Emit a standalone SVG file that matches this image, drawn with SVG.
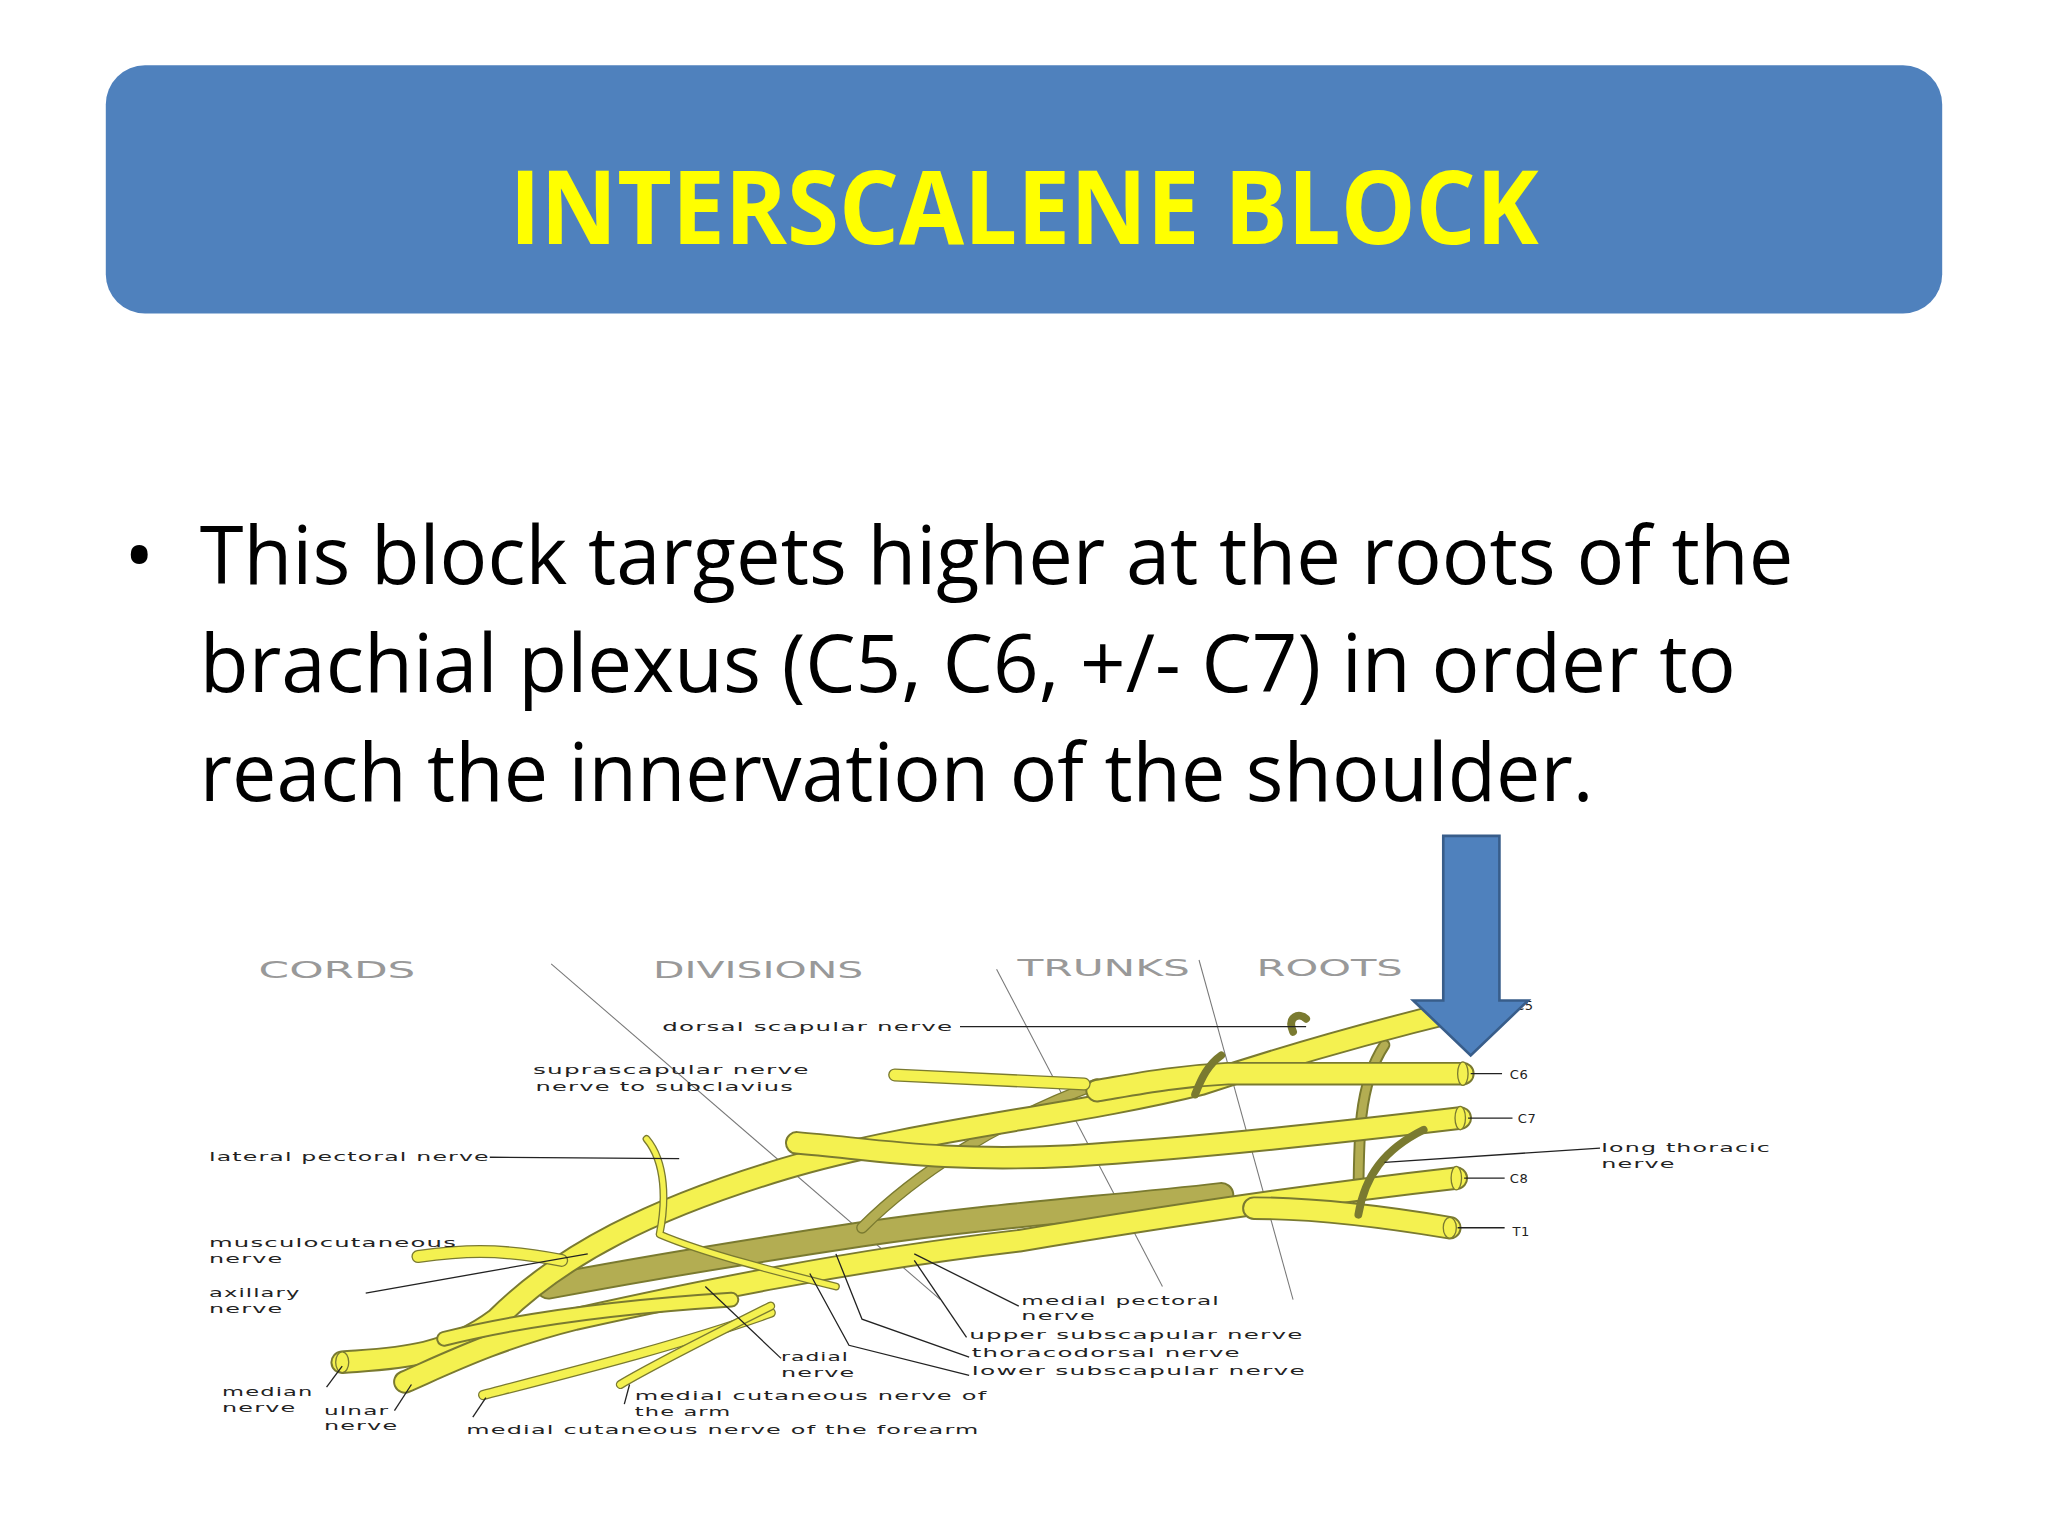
<svg xmlns="http://www.w3.org/2000/svg" width="2048" height="1536" viewBox="0 0 2048 1536">
<style>
.lbl{font-family:"DejaVu Sans",Verdana,sans-serif;font-size:10px;fill:#222;letter-spacing:0.5px}
.hdr{font-family:"DejaVu Sans",Verdana,sans-serif;font-size:17px;fill:#999}
.ol{fill:none;stroke:#7a7a30;stroke-linecap:round;stroke-linejoin:round}
.yl{fill:none;stroke:#f4f150;stroke-linecap:round;stroke-linejoin:round}
.pc{fill:none;stroke:#b3ad52;stroke-linecap:round}
.lead{fill:none;stroke:#222;stroke-width:1}
.guide{fill:none;stroke:#777;stroke-width:0.8}
</style>
<rect width="2048" height="1536" fill="#fff"/>
<g transform="scale(1.30612)">
<g id="title">
<rect x="81" y="50" width="1406" height="190" rx="30" fill="#4f81bd"/>
<text x="784" y="187" text-anchor="middle" font-family="Open Sans, Liberation Sans, sans-serif" font-weight="bold" font-size="78" fill="#ffff00" textLength="788" lengthAdjust="spacingAndGlyphs">INTERSCALENE BLOCK</text>
</g>
<g id="bullet" font-family="Open Sans, Liberation Sans, sans-serif" font-size="62" fill="#000">
<text x="95" y="447">•</text>
<text x="153" y="447" textLength="1220" lengthAdjust="spacingAndGlyphs">This block targets higher at the roots of the</text>
<text x="153" y="530" textLength="1176" lengthAdjust="spacingAndGlyphs">brachial plexus (C5, C6, +/- C7) in order to</text>
<text x="153" y="613" textLength="1067" lengthAdjust="spacingAndGlyphs">reach the innervation of the shoulder.</text>
</g>
<g id="plexus">
<g id="headers">
<text class="hdr" x="198" y="749" textLength="120" lengthAdjust="spacingAndGlyphs">CORDS</text>
<text class="hdr" x="500" y="749" textLength="161" lengthAdjust="spacingAndGlyphs">DIVISIONS</text>
<text class="hdr" x="779" y="747" textLength="132" lengthAdjust="spacingAndGlyphs">TRUNKS</text>
<text class="hdr" x="962" y="747" textLength="112" lengthAdjust="spacingAndGlyphs">ROOTS</text>
</g>
<g id="guides">
<path class="guide" d="M422 738 L720 995"/>
<path class="guide" d="M763 742 L890 985"/>
<path class="guide" d="M918 735 L990 995"/>
</g>
<g id="nerves">
<path class="ol" stroke-width="20" d="M935 915 C850 925 760 930 660 945 C560 960 500 970 420 985"/>
<path class="pc" stroke-width="17" d="M935 915 C850 925 760 930 660 945 C560 960 500 970 420 985"/>
<path class="ol" stroke-width="9" d="M840 830 C760 860 700 900 660 940"/>
<path class="pc" stroke-width="7" d="M840 830 C760 860 700 900 660 940"/>
<path class="ol" stroke-width="9" d="M1060 800 C1040 830 1040 870 1040 930"/>
<path class="pc" stroke-width="6" d="M1060 800 C1040 830 1040 870 1040 930"/>
<path class="ol" stroke-width="6" d="M990 790 C985 778 995 775 1000 780"/>
<path class="ol" stroke-width="18" d="M1120 773 C1050 790 980 810 920 830 C820 855 700 865 600 895 C500 925 430 960 380 1010 C340 1040 300 1040 262 1043"/>
<path class="yl" stroke-width="15" d="M1120 773 C1050 790 980 810 920 830 C820 855 700 865 600 895 C500 925 430 960 380 1010 C340 1040 300 1040 262 1043"/>
<path class="ol" stroke-width="18" d="M1120 822 L940 822 C900 824 870 830 840 835"/>
<path class="yl" stroke-width="15" d="M1120 822 L940 822 C900 824 870 830 840 835"/>
<path class="ol" stroke-width="10" d="M830 830 L685 823"/>
<path class="yl" stroke-width="8" d="M830 830 L685 823"/>
<path class="ol" stroke-width="6" d="M935 808 C925 815 920 825 915 838"/>
<path class="ol" stroke-width="18" d="M1118 856 C1000 870 900 880 820 885 C720 890 670 880 610 875"/>
<path class="yl" stroke-width="15" d="M1118 856 C1000 870 900 880 820 885 C720 890 670 880 610 875"/>
<path class="ol" stroke-width="18" d="M1115 902 C1000 915 900 930 780 950 C650 965 530 990 440 1010 C380 1025 340 1045 310 1058"/>
<path class="yl" stroke-width="15" d="M1115 902 C1000 915 900 930 780 950 C650 965 530 990 440 1010 C380 1025 340 1045 310 1058"/>
<path class="ol" stroke-width="18" d="M1110 940 C1050 930 1000 925 960 925"/>
<path class="yl" stroke-width="15" d="M1110 940 C1050 930 1000 925 960 925"/>
<path class="ol" stroke-width="12" d="M560 995 C480 1000 400 1010 340 1025"/>
<path class="yl" stroke-width="9" d="M560 995 C480 1000 400 1010 340 1025"/>
<path class="ol" stroke-width="10" d="M430 965 C380 955 350 958 320 962"/>
<path class="yl" stroke-width="8" d="M430 965 C380 955 350 958 320 962"/>
<path class="ol" stroke-width="8" d="M590 1005 C520 1030 440 1050 370 1068"/>
<path class="yl" stroke-width="6" d="M590 1005 C520 1030 440 1050 370 1068"/>
<path class="ol" stroke-width="7" d="M590 1000 C540 1025 500 1045 475 1060"/>
<path class="yl" stroke-width="5" d="M590 1000 C540 1025 500 1045 475 1060"/>
<path class="ol" stroke-width="6" d="M495 872 C510 890 510 920 505 945 C540 960 600 975 640 985"/>
<path class="yl" stroke-width="4" d="M495 872 C510 890 510 920 505 945 C540 960 600 975 640 985"/>
<path class="ol" stroke-width="6" d="M1040 930 C1045 900 1060 880 1090 865"/>
<ellipse cx="1120" cy="822" rx="4" ry="9" fill="#f4f150" stroke="#7a7a30"/>
<ellipse cx="1118" cy="856" rx="4" ry="9" fill="#f4f150" stroke="#7a7a30"/>
<ellipse cx="1115" cy="902" rx="4" ry="9" fill="#f4f150" stroke="#7a7a30"/>
<ellipse cx="1110" cy="940" rx="5" ry="8" fill="#f4f150" stroke="#7a7a30"/>
<ellipse cx="262" cy="1043" rx="5" ry="8" fill="#f4f150" stroke="#7a7a30"/>
</g>
<g id="leaders">
<path class="lead" d="M735 786 L1000 786"/>
<path class="lead" d="M1126 822 L1150 822"/>
<path class="lead" d="M1124 856 L1158 856"/>
<path class="lead" d="M1121 902 L1152 902"/>
<path class="lead" d="M1116 940 L1152 940"/>
<path class="lead" d="M1060 890 L1225 879"/>
<path class="lead" d="M375 886 L520 887"/>
<path class="lead" d="M280 990 L450 960"/>
<path class="lead" d="M250 1062 L262 1046"/>
<path class="lead" d="M302 1080 L315 1060"/>
<path class="lead" d="M362 1085 L372 1070"/>
<path class="lead" d="M478 1075 L482 1060"/>
<path class="lead" d="M598 1040 L540 985"/>
<path class="lead" d="M780 1000 L700 960"/>
<path class="lead" d="M740 1024 L700 965"/>
<path class="lead" d="M742 1039 L660 1010 L640 960"/>
<path class="lead" d="M742 1053 L650 1030 L620 975"/>
</g>
<g id="labels">
<text class="lbl" x="507" y="789" textLength="223" lengthAdjust="spacingAndGlyphs">dorsal scapular nerve</text>
<text class="lbl" x="408" y="822" textLength="212" lengthAdjust="spacingAndGlyphs">suprascapular nerve</text>
<text class="lbl" x="410" y="835" textLength="198" lengthAdjust="spacingAndGlyphs">nerve to subclavius</text>
<text class="lbl" x="160" y="889" textLength="215" lengthAdjust="spacingAndGlyphs">lateral pectoral nerve</text>
<text class="lbl" x="160" y="955" textLength="190" lengthAdjust="spacingAndGlyphs">musculocutaneous</text>
<text class="lbl" x="160" y="967" textLength="57" lengthAdjust="spacingAndGlyphs">nerve</text>
<text class="lbl" x="160" y="993" textLength="70" lengthAdjust="spacingAndGlyphs">axillary</text>
<text class="lbl" x="160" y="1005" textLength="57" lengthAdjust="spacingAndGlyphs">nerve</text>
<text class="lbl" x="170" y="1069" textLength="70" lengthAdjust="spacingAndGlyphs">median</text>
<text class="lbl" x="170" y="1081" textLength="57" lengthAdjust="spacingAndGlyphs">nerve</text>
<text class="lbl" x="248" y="1083" textLength="50" lengthAdjust="spacingAndGlyphs">ulnar</text>
<text class="lbl" x="248" y="1095" textLength="57" lengthAdjust="spacingAndGlyphs">nerve</text>
<text class="lbl" x="486" y="1072" textLength="270" lengthAdjust="spacingAndGlyphs">medial cutaneous nerve of</text>
<text class="lbl" x="486" y="1084" textLength="74" lengthAdjust="spacingAndGlyphs">the arm</text>
<text class="lbl" x="357" y="1098" textLength="393" lengthAdjust="spacingAndGlyphs">medial cutaneous nerve of the forearm</text>
<text class="lbl" x="598" y="1042" textLength="52" lengthAdjust="spacingAndGlyphs">radial</text>
<text class="lbl" x="598" y="1054" textLength="57" lengthAdjust="spacingAndGlyphs">nerve</text>
<text class="lbl" x="782" y="999" textLength="152" lengthAdjust="spacingAndGlyphs">medial pectoral</text>
<text class="lbl" x="782" y="1011" textLength="57" lengthAdjust="spacingAndGlyphs">nerve</text>
<text class="lbl" x="742" y="1025" textLength="256" lengthAdjust="spacingAndGlyphs">upper subscapular nerve</text>
<text class="lbl" x="744" y="1039" textLength="206" lengthAdjust="spacingAndGlyphs">thoracodorsal nerve</text>
<text class="lbl" x="744" y="1053" textLength="256" lengthAdjust="spacingAndGlyphs">lower subscapular nerve</text>
<text class="lbl" x="1160" y="773">C5</text>
<text class="lbl" x="1156" y="826">C6</text>
<text class="lbl" x="1162" y="860">C7</text>
<text class="lbl" x="1156" y="906">C8</text>
<text class="lbl" x="1158" y="946">T1</text>
<text class="lbl" x="1226" y="882" textLength="130" lengthAdjust="spacingAndGlyphs">long thoracic</text>
<text class="lbl" x="1226" y="894" textLength="57" lengthAdjust="spacingAndGlyphs">nerve</text>
</g>
</g>
<g id="arrow">
<path d="M1105 640 L1148 640 L1148 766 L1170 766 L1126 808 L1082 766 L1105 766 Z" fill="#4f81bd" stroke="#385d8a" stroke-width="2"/>
</g>
</g>
</svg>
